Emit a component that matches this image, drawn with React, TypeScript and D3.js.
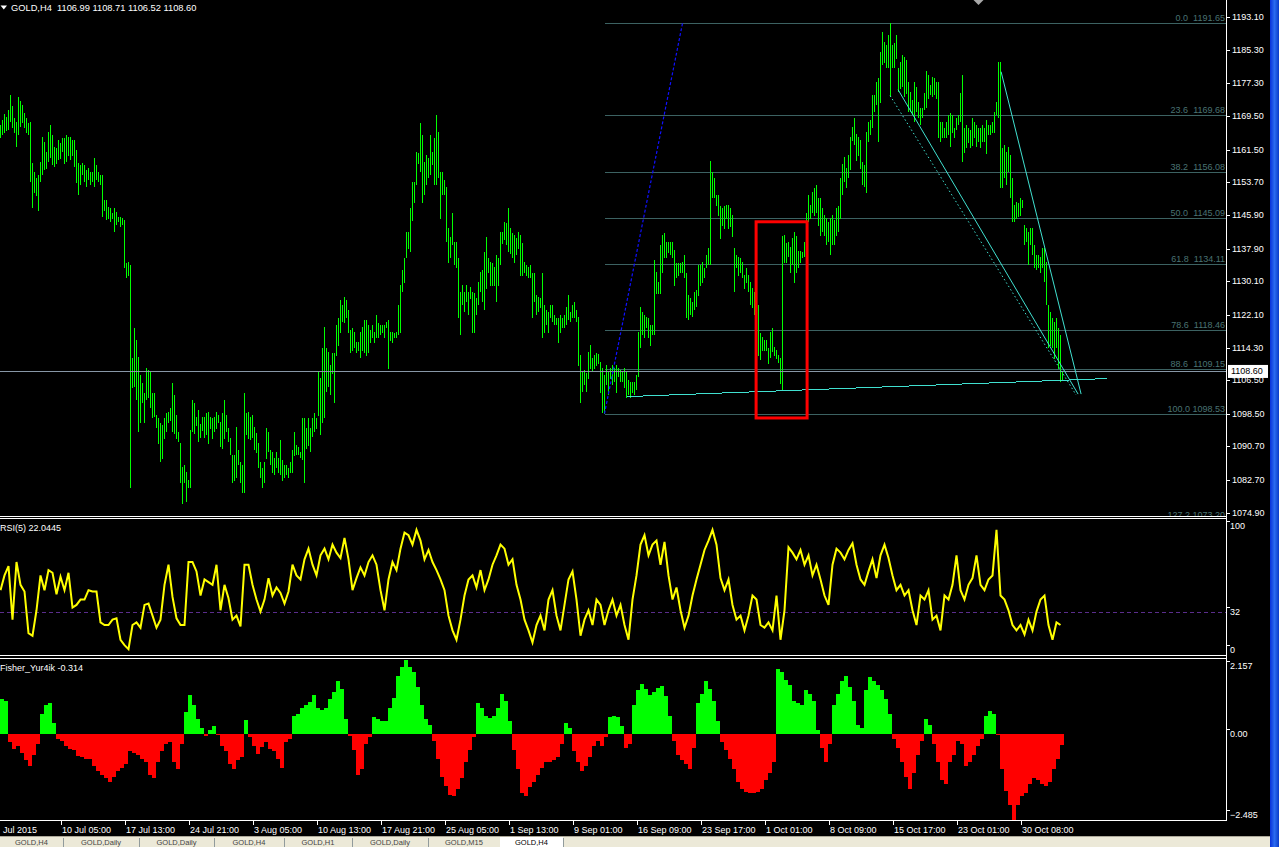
import React from 'react';
import * as d3 from 'd3';

// ---------------- DATA ----------------
// [high, low] of every H4 bar (GOLD), oldest first
const BARS: [number, number][] = [
  // 0-14
  [1167.5,1164.3],[1168.5,1165.0],[1170.0,1165.5],[1169.2,1166.0],[1171.0,1166.4],
  [1174.6,1168.1],[1172.0,1166.8],[1169.1,1165.7],[1168.1,1162.2],[1174.1,1165.0],
  [1173.0,1167.0],[1172.2,1167.9],[1170.3,1166.7],[1169.0,1165.5],[1167.9,1165.0],
  // 15-24
  [1168.0,1153.8],[1158.3,1147.6],[1156.2,1151.4],[1154.8,1150.5],[1155.5,1147.1],
  [1158.6,1154.0],[1164.5,1155.5],[1163.4,1156.7],[1161.0,1157.0],[1165.7,1158.6],
  // 25-37
  [1167.4,1159.7],[1165.0,1157.9],[1162.2,1157.4],[1161.9,1158.3],[1163.8,1159.1],
  [1163.0,1159.5],[1164.3,1161.0],[1164.3,1158.3],[1165.0,1158.6],[1164.5,1160.2],
  [1164.5,1159.1],[1163.8,1160.0],[1163.8,1157.4],
  // 38-49
  [1161.5,1153.6],[1158.3,1150.7],[1157.9,1153.1],[1158.3,1155.5],[1157.9,1153.8],
  [1156.7,1152.6],[1157.2,1154.3],[1156.2,1153.1],[1156.2,1153.8],[1159.5,1152.6],
  [1157.9,1154.3],[1156.2,1153.8],
  // 50-62
  [1155.5,1153.1],[1155.5,1145.5],[1149.5,1147.1],[1149.5,1144.8],[1147.8,1145.2],
  [1147.6,1144.3],[1146.4,1145.2],[1147.6,1141.9],[1146.6,1143.6],[1145.5,1144.3],
  [1145.5,1143.1],[1145.2,1143.6],[1144.7,1133.5],
  // 63-79
  [1134.5,1130.9],[1134.7,1131.6],[1134.0,1081.0],[1111.8,1104.7],[1119.0,1104.9],
  [1116.1,1101.8],[1112.0,1094.2],[1107.8,1096.5],[1105.8,1101.1],[1103.5,1096.5],
  [1109.4,1101.8],[1109.0,1102.5],[1108.5,1100.1],[1103.5,1097.5],[1103.5,1097.8],
  [1098.2,1095.3],[1097.5,1091.5],
  // 80-99
  [1096.3,1087.0],[1095.8,1087.9],[1097.5,1092.7],[1098.7,1094.2],[1098.9,1096.5],
  [1099.9,1097.0],[1105.8,1094.2],[1103.0,1093.9],[1098.2,1092.7],[1094.2,1091.8],
  [1091.5,1082.2],[1085.8,1077.2],[1086.3,1082.0],[1084.6,1077.5],[1082.7,1080.8],
  [1094.6,1080.8],[1101.8,1094.2],[1101.1,1093.9],[1097.7,1095.8],[1099.4,1091.8],
  // 100-122
  [1096.1,1092.9],[1097.7,1094.6],[1097.7,1092.9],[1098.7,1093.5],[1098.9,1091.5],
  [1097.7,1095.1],[1097.5,1092.7],[1097.7,1094.2],[1098.9,1095.1],[1098.2,1096.5],
  [1096.5,1090.6],[1098.7,1090.3],[1101.8,1092.7],[1098.2,1094.2],[1095.1,1091.8],
  [1092.7,1088.7],[1088.7,1082.2],[1088.7,1082.7],[1095.3,1083.2],[1089.9,1086.5],
  [1087.0,1082.2],[1086.3,1079.8],[1103.5,1079.8],
  // 123-152
  [1098.7,1093.5],[1098.9,1092.7],[1097.7,1092.3],[1098.2,1092.9],[1095.3,1089.9],
  [1094.0,1089.2],[1091.5,1085.8],[1087.0,1083.2],[1085.6,1080.8],[1087.0,1082.2],
  [1095.1,1087.9],[1094.2,1089.4],[1089.9,1086.3],[1089.4,1084.4],[1087.9,1083.9],
  [1089.4,1085.6],[1087.9,1084.6],[1092.3,1083.9],[1087.5,1082.7],[1086.3,1083.2],
  [1086.3,1083.9],[1085.6,1083.4],[1087.0,1084.4],[1089.9,1084.4],[1094.2,1088.5],
  [1091.0,1088.7],[1090.6,1088.7],[1089.4,1088.0],[1097.5,1087.5],[1097.5,1082.2],
  // 153-172
  [1095.1,1090.3],[1097.5,1091.0],[1095.1,1089.4],[1097.5,1093.0],[1098.7,1094.2],
  [1097.5,1095.1],[1108.5,1098.2],[1107.0,1093.5],[1114.2,1096.5],[1119.2,1097.5],
  [1114.2,1103.7],[1113.2,1104.9],[1110.1,1103.0],[1113.0,1108.2],[1113.0,1101.3],
  [1119.7,1112.5],[1121.3,1114.9],[1125.7,1117.8],[1124.5,1120.4],[1126.4,1120.2],
  // 173-198
  [1125.7,1121.4],[1123.3,1118.0],[1118.5,1113.2],[1119.0,1113.5],[1118.0,1114.2],
  [1115.6,1113.2],[1115.6,1113.5],[1118.0,1112.0],[1119.2,1113.7],[1120.9,1113.2],
  [1120.9,1112.5],[1119.7,1113.2],[1118.5,1115.6],[1119.7,1116.6],[1118.0,1115.4],
  [1122.1,1116.6],[1120.2,1116.6],[1119.7,1117.3],[1119.7,1117.8],[1119.7,1116.6],
  [1120.4,1119.0],[1120.9,1109.4],[1118.0,1116.1],[1118.0,1115.6],[1117.8,1116.6],
  [1118.0,1116.6],
  // 199-219
  [1124.5,1117.3],[1129.2,1118.0],[1132.8,1127.6],[1135.7,1129.9],[1141.9,1135.7],
  [1141.9,1138.0],[1147.6,1137.1],[1153.8,1144.7],[1153.8,1149.0],[1160.9,1153.1],
  [1160.7,1158.3],[1167.9,1156.2],[1165.0,1149.0],[1158.6,1150.7],[1160.2,1153.1],
  [1159.5,1154.8],[1165.0,1155.5],[1161.0,1157.9],[1164.3,1153.1],[1169.8,1153.1],
  [1165.7,1154.8],
  // 220-249
  [1156.2,1145.2],[1156.2,1150.7],[1154.3,1150.7],[1152.6,1139.5],[1142.8,1134.5],
  [1140.7,1135.7],[1146.4,1138.8],[1139.5,1134.0],[1139.5,1133.3],[1135.7,1121.4],
  [1127.6,1117.3],[1129.2,1124.5],[1127.6,1122.8],[1129.2,1125.2],[1127.6,1122.1],
  [1128.8,1126.1],[1127.6,1118.0],[1127.3,1118.0],[1126.1,1122.1],[1129.9,1124.5],
  [1132.3,1127.6],[1132.8,1125.2],[1137.1,1123.3],[1140.7,1128.5],[1135.7,1132.3],
  [1134.7,1129.2],[1134.5,1129.2],[1133.5,1129.2],[1136.4,1125.2],[1135.7,1129.2],
  // 250-289
  [1141.9,1134.0],[1141.9,1139.2],[1144.3,1140.0],[1144.0,1138.8],[1147.6,1137.1],
  [1142.8,1136.8],[1141.6,1135.7],[1141.1,1134.7],[1140.4,1136.4],[1141.9,1138.0],
  [1141.1,1131.6],[1139.2,1131.6],[1134.7,1132.3],[1134.0,1131.6],[1133.5,1130.9],
  [1134.0,1130.9],[1132.1,1121.4],[1132.1,1125.2],[1126.8,1122.1],[1126.4,1122.8],
  [1126.1,1123.8],[1132.1,1116.6],[1124.5,1118.0],[1123.3,1119.7],[1122.8,1118.0],
  [1124.5,1121.4],[1124.5,1120.4],[1122.1,1119.7],[1121.4,1119.7],[1121.4,1115.6],
  [1122.1,1118.0],[1121.4,1119.0],[1122.1,1119.0],[1124.0,1119.7],[1126.8,1120.9],
  [1122.8,1120.4],[1124.5,1121.4],[1125.2,1121.4],[1123.3,1120.4],[1121.6,1110.1],
  // 290-302
  [1112.5,1101.1],[1108.5,1103.7],[1109.0,1105.4],[1108.2,1103.7],[1113.2,1107.0],
  [1114.9,1109.4],[1111.8,1108.5],[1112.5,1109.4],[1113.0,1110.1],[1112.8,1110.6],
  [1110.8,1103.5],[1109.4,1098.7],[1107.8,1098.53],
  // 303-320
  [1110.1,1105.4],[1108.5,1103.0],[1109.4,1107.0],[1110.1,1105.4],[1109.4,1106.1],
  [1110.1,1103.5],[1109.4,1107.3],[1109.0,1106.1],[1108.5,1106.1],[1109.4,1104.7],
  [1108.5,1102.3],[1106.6,1103.0],[1106.1,1102.5],[1106.1,1103.5],[1106.1,1103.0],
  [1107.8,1104.2],[1118.0,1107.3],[1124.0,1114.2],
  // 321-355
  [1122.8,1117.3],[1122.1,1116.8],[1121.6,1119.0],[1121.4,1116.6],[1119.7,1114.9],
  [1119.7,1117.3],[1135.2,1117.3],[1132.3,1127.3],[1129.9,1127.3],[1138.8,1127.1],
  [1141.1,1132.1],[1141.6,1135.7],[1139.5,1135.7],[1139.5,1136.9],[1139.5,1136.4],
  [1139.5,1135.7],[1137.6,1129.2],[1134.5,1130.9],[1134.5,1131.6],[1134.5,1132.1],
  [1134.7,1132.1],[1136.4,1130.9],[1132.1,1121.4],[1126.8,1120.9],[1126.1,1122.1],
  [1125.2,1121.6],[1127.6,1123.3],[1128.0,1124.0],[1134.0,1126.8],[1134.0,1129.2],
  [1134.7,1129.9],[1133.3,1130.9],[1136.4,1133.3],[1138.0,1134.0],[1158.8,1134.0],
  // 356-378
  [1156.2,1150.0],[1154.8,1150.0],[1150.7,1148.3],[1150.7,1145.9],[1148.0,1140.4],
  [1147.6,1143.5],[1148.0,1142.8],[1148.3,1145.2],[1148.3,1142.8],[1147.6,1143.1],
  [1145.9,1140.7],[1138.0,1127.6],[1136.4,1133.3],[1135.9,1131.6],[1135.7,1132.3],
  [1134.7,1130.9],[1131.6,1128.5],[1133.3,1129.9],[1131.6,1127.6],[1130.0,1124.5],
  [1128.5,1123.8],[1127.6,1122.1],[1124.5,1122.8],
  // 379-402
  [1124.5,1112.5],[1117.8,1111.4],[1116.8,1113.7],[1116.1,1113.5],[1116.1,1113.7],
  [1114.2,1110.6],[1118.0,1112.0],[1118.9,1113.4],[1114.4,1112.5],[1113.7,1111.8],
  [1112.5,1110.8],[1111.8,1105.8],[1140.9,1104.2],[1141.1,1134.5],[1139.2,1134.5],
  [1139.5,1135.9],[1138.3,1132.1],[1140.4,1134.0],[1141.9,1129.9],[1140.9,1132.3],
  [1137.3,1133.5],[1137.3,1134.5],[1137.1,1135.7],[1139.5,1135.9],
  // 403-420
  [1146.4,1138.8],[1150.7,1144.3],[1148.3,1145.2],[1151.4,1146.6],[1152.4,1145.9],
  [1153.1,1146.6],[1150.0,1143.5],[1150.0,1141.1],[1147.6,1141.9],[1145.9,1141.1],
  [1145.2,1138.8],[1144.3,1139.5],[1145.2,1136.4],[1145.9,1138.8],[1144.7,1138.8],
  [1147.6,1141.1],[1148.0,1141.9],[1154.8,1145.2],
  // 421-445
  [1158.1,1150.9],[1159.7,1154.0],[1157.1,1152.4],[1160.2,1154.8],[1164.5,1156.7],
  [1166.9,1163.6],[1169.1,1162.7],[1165.2,1158.8],[1164.5,1160.2],[1163.8,1157.1],
  [1158.6,1153.1],[1157.9,1152.6],[1165.7,1151.4],[1168.1,1163.4],[1168.6,1165.0],
  [1174.6,1166.7],[1174.6,1170.5],[1177.7,1172.2],[1178.7,1163.4],[1184.9,1172.7],
  [1189.6,1181.7],[1187.2,1182.4],[1186.4,1181.0],[1188.8,1181.2],[1191.65,1174.1],
  // 446-481
  [1186.4,1181.0],[1186.9,1181.2],[1188.8,1183.3],[1181.0,1175.3],[1182.4,1176.2],
  [1184.1,1176.5],[1183.6,1174.1],[1182.9,1174.9],[1177.7,1170.5],[1175.3,1170.5],
  [1173.4,1169.8],[1177.7,1168.1],[1176.5,1170.5],[1172.9,1169.1],[1171.5,1167.4],
  [1171.5,1169.1],[1175.0,1171.0],[1180.2,1171.5],[1179.3,1173.8],[1176.9,1174.6],
  [1178.9,1174.1],[1178.6,1174.6],[1177.7,1173.8],[1177.7,1164.3],[1168.1,1163.4],
  [1168.1,1164.5],[1166.7,1164.5],[1168.1,1164.3],[1169.8,1165.0],[1170.3,1162.2],
  [1169.8,1165.7],[1166.7,1164.3],[1169.1,1166.2],[1169.8,1167.4],[1175.0,1168.1],
  [1179.3,1158.6],
  // 482-500
  [1166.7,1160.9],[1167.4,1161.9],[1166.7,1163.1],[1166.2,1161.9],[1169.1,1162.6],
  [1168.1,1164.3],[1167.4,1162.2],[1166.7,1163.4],[1166.7,1161.9],[1167.4,1163.4],
  [1166.7,1163.4],[1168.6,1160.7],[1167.4,1165.0],[1167.4,1165.0],[1168.1,1165.5],
  [1170.5,1165.7],[1172.9,1169.8],[1182.4,1169.1],[1182.4,1152.4],
  // 501-531
  [1161.9,1152.4],[1162.6,1154.8],[1160.9,1153.1],[1162.2,1156.2],[1160.2,1150.2],
  [1154.8,1144.3],[1148.3,1144.3],[1149.0,1145.2],[1148.8,1145.5],[1150.0,1145.9],
  [1149.5,1147.6],[1143.5,1138.8],[1142.8,1139.5],[1141.9,1134.0],[1142.8,1138.8],
  [1142.8,1136.4],[1138.8,1133.3],[1136.4,1132.8],[1136.4,1133.3],[1135.9,1132.3],
  [1138.0,1133.3],[1138.0,1130.0],[1134.7,1124.5],[1124.5,1114.2],[1122.8,1114.9],
  [1121.4,1114.2],[1120.4,1111.8],[1121.4,1114.2],[1119.0,1109.4],[1117.3,1106.1],
  [1108.71,1106.52],
];

// RSI(5), read every 2nd bar
const IND_STEP = 2;
const RSI5 = [
  48,59,66,26,69,52,47,16,14,33, 59,48,63,61,45,58,48,61,35,37,
  41,41,48,47,47,24,22,22,26,27, 11,7,4,22,24,20,37,38,29,20,
  26,52,67,43,27,22,22,69,69,62, 44,56,54,52,67,33,52,42,26,29,
  21,67,67,52,41,32,41,57,44,50, 46,38,47,67,59,56,71,79,67,59,
  74,79,71,82,76,72,87,71,48,57, 65,59,69,74,67,48,33,56,69,63,
  79,91,89,82,93,85,71,78,69,63, 56,48,29,18,11,26,44,56,59,50,
  63,48,56,67,74,82,79,67,71,52, 41,26,18,9,22,29,18,41,48,29,
  18,37,56,62,41,14,26,33,22,41, 37,22,33,41,29,37,22,11,41,59,
  82,89,74,82,85,67,84,59,41,50, 33,20,29,44,56,67,78,85,93,82,
  57,48,56,37,26,29,18,29,44,41, 22,20,24,18,44,11,33,80,76,71,
  78,67,74,59,67,56,44,37,67,79, 76,71,78,83,67,56,52,62,71,57,
  74,82,72,59,48,52,44,48,33,22, 44,41,48,26,29,18,44,41,52,74,
  48,41,52,57,74,52,48,56,59,93, 44,41,33,22,18,22,15,26,18,32,
  41,44,22,11,24,22,
];

// Fisher_Yur4ik, read every 2nd bar
const FISHER = [
  1.00,0.95,-0.25,-0.43,-0.35,-0.56,-0.77,-0.93,-0.61,-0.30,
  0.58,0.84,0.90,0.32,-0.15,-0.20,-0.35,-0.43,-0.46,-0.64,
  -0.67,-0.72,-0.72,-0.93,-1.08,-1.19,-1.29,-1.40,-1.24,-1.08,
  -0.98,-0.88,-0.49,-0.56,-0.61,-0.72,-0.82,-1.19,-1.29,-0.82,
  -0.51,-0.30,-0.25,-0.82,-1.03,-0.30,0.64,1.14,0.84,0.43,
  0.17,-0.07,0.11,0.22,-0.04,-0.35,-0.51,-0.88,-1.01,-0.77,
  -0.67,0.41,-0.09,-0.35,-0.59,-0.39,-0.25,-0.43,-0.51,-0.72,
  -0.98,-0.25,-0.15,0.53,0.58,0.74,0.84,0.93,1.14,0.74,
  0.69,0.74,1.00,1.21,1.52,1.31,0.43,-0.07,-0.46,-1.19,
  -1.03,-0.30,-0.09,0.48,0.43,0.38,0.38,0.74,1.05,1.68,
  1.94,2.157,1.94,1.78,1.36,0.84,0.43,0.27,-0.20,-0.72,
  -1.24,-1.50,-1.78,-1.81,-1.60,-1.29,-0.82,-0.46,-0.09,0.90,
  0.74,0.53,0.45,0.53,0.74,1.16,0.95,0.38,-0.46,-1.03,
  -1.71,-1.81,-1.55,-1.40,-1.19,-0.98,-0.82,-0.82,-0.77,-0.67,
  -0.30,0.32,0.17,-0.51,-0.82,-1.08,-0.93,-0.67,-0.35,-0.20,
  -0.35,-0.09,0.48,0.51,0.48,0.22,-0.41,-0.30,0.84,1.26,
  1.45,1.31,1.14,1.21,1.34,1.39,1.10,0.53,-0.20,-0.61,
  -0.77,-0.88,-1.01,-0.41,0.90,1.16,1.52,1.31,0.95,0.38,
  -0.25,-0.46,-0.72,-1.03,-1.40,-1.60,-1.68,-1.71,-1.71,-1.68,
  -1.60,-1.34,-1.14,-0.82,1.89,1.78,1.57,1.42,0.95,0.90,
  0.84,1.26,1.16,0.95,0.11,-0.41,-0.82,-0.30,0.84,1.16,
  1.52,1.68,1.36,0.95,0.27,0.17,1.26,1.66,1.52,1.42,
  1.26,1.00,0.58,-0.15,-0.41,-0.82,-1.24,-1.60,-1.14,-0.61,
  -0.20,0.43,0.27,-0.30,-0.82,-1.34,-1.45,-0.82,-0.61,-0.20,
  -0.30,-0.93,-0.82,-0.61,-0.35,-0.15,0.53,0.66,0.58,-0.04,
  -1.03,-1.66,-2.07,-2.485,-2.07,-1.81,-1.71,-1.45,-1.29,-1.34,
  -1.45,-1.50,-1.40,-1.03,-0.72,-0.31,
];

const PRICE_TICKS = [1193.10,1185.30,1177.30,1169.50,1161.50,1153.70,1145.90,1137.90,
  1130.10,1122.10,1114.30,1106.50,1098.50,1090.70,1082.70,1074.90];
const PRICE_WINDOW = [1074.0, 1197.2];

const TIME_FIRST_LABEL = 'Jul 2015';
const TIME_LABELS = ['10 Jul 05:00','17 Jul 13:00','24 Jul 21:00','3 Aug 05:00','10 Aug 13:00',
  '17 Aug 21:00','25 Aug 05:00','1 Sep 13:00','9 Sep 01:00','16 Sep 09:00','23 Sep 17:00',
  '1 Oct 01:00','8 Oct 09:00','15 Oct 17:00','23 Oct 01:00','30 Oct 08:00'];
const TIME_FIRST_BAR = 30;
const TIME_EVERY_BARS = 32;

const FIB_LEVELS = ['0.0','23.6','38.2','50.0','61.8','78.6','88.6','100.0','127.2'];
const FIB_PRICES = [1191.65,1169.68,1156.08,1145.09,1134.11,1118.46,1109.15,1098.53,1073.20];
const FIB_ANCHOR_BARS = [302, 341];

// trend lines: [bar, price] -> [bar, price]
const TREND_SOLID: [number, number][][] = [
  [[313.2,1102.6],[553.2,1106.9]],
  [[448.8,1175.8],[538.8,1103.2]],
  [[500.3,1180.1],[540.3,1103.2]],
];
const TREND_DOTTED: [number, number][][] = [
  [[444.8,1174.4],[537.8,1103.0]],
];
const BOX_BARS = [377.8, 403.3];
const BOX_PRICES = [1144.3, 1097.5];

const SYMBOL = 'GOLD,H4';
const LAST_OHLC = [1106.99, 1108.71, 1106.52, 1108.60];
const RSI_TITLE = 'RSI(5) 22.0445';
const RSI_LEVELS = [100, 32, 0];
const FISHER_TITLE = 'Fisher_Yur4ik -0.314';
const TABS = ['GOLD,H4','GOLD,Daily','GOLD,Daily','GOLD,H4','GOLD,H1','GOLD,Daily','GOLD,M15','GOLD,H4'];

// ---------------- LAYOUT ----------------
const W = 1279, H = 847;
const AXIS_X = 1226.5;
const MAIN_B = 516.5;
const RSI_T = 518.5, RSI_B = 655.5;
const FIS_T = 658.5, FIS_B = 820.5;
const FONT = "'Liberation Sans', Arial, sans-serif";
const FIB_COLOR = '#3C6262';
const FIB_TEXT = '#4A7373';
const CYAN = '#40E0D0';
const TAB_EDGES = [0, 63, 139, 214, 284, 352, 428, 500, 563];

export default function App() {
  const x = d3.scaleLinear().domain([0, 1]).range([0.5, 2.5]);
  const yP = d3.scaleLinear().domain(PRICE_WINDOW).range([MAIN_B, 0]);
  const yR = d3.scaleLinear().domain([0, 100]).range([RSI_B - 1, RSI_T + 2]);
  const fExt = d3.extent(FISHER) as [number, number];
  const yF = d3.scaleLinear().domain(fExt).range([FIS_B - 1, FIS_T + 1]);
  const f2 = d3.format('.2f');

  const barPath = BARS.map(([h, l], i) => `M${x(i)},${yP(h)}V${yP(l) + 0.5}`).join('');

  const rsiLine = d3.line<number>()
    .x((_, k) => x(k * IND_STEP))
    .y((v) => yR(v))(RSI5) || '';

  const f0 = yF(0);
  let green = '', red = '';
  FISHER.forEach((v, k) => {
    const x0 = x(k * IND_STEP) - 0.5;
    const w = 2 * IND_STEP;
    const yy = yF(v);
    if (v >= 0) green += `M${x0},${f0}H${x0 + w}V${yy}H${x0}Z`;
    else red += `M${x0},${f0}H${x0 + w}V${yy}H${x0}Z`;
  });

  const clampLabel = (y: number, t: number, b: number) => Math.max(t + 7, Math.min(b - 6, y));
  const lastClose = LAST_OHLC[3];

  const txt = { fontFamily: FONT, fontSize: 9 } as const;

  return (
    <svg width={W} height={H} viewBox={`0 0 ${W} ${H}`}
      style={{ position: 'absolute', left: 0, top: 0, display: 'block', background: '#000' }}>
      <defs>
        <clipPath id="cMain"><rect x={0} y={0} width={AXIS_X} height={MAIN_B} /></clipPath>
        <clipPath id="cRsi"><rect x={0} y={RSI_T + 0.5} width={AXIS_X} height={RSI_B - RSI_T - 1} /></clipPath>
        <clipPath id="cFis"><rect x={0} y={FIS_T + 0.5} width={AXIS_X} height={FIS_B - FIS_T - 1} /></clipPath>
        <linearGradient id="blueEdge" x1="0" x2="1" y1="0" y2="0">
          <stop offset="0" stopColor="#0831D9" />
          <stop offset="0.5" stopColor="#2A6BF0" />
          <stop offset="1" stopColor="#0A3CC8" />
        </linearGradient>
      </defs>
      <rect x={0} y={0} width={W} height={H} fill="#000" />

      {/* ---------- main panel ---------- */}
      <g clipPath="url(#cMain)">
        {FIB_PRICES.map((p, i) => (
          <line key={'fl' + i} x1={x(FIB_ANCHOR_BARS[0])} x2={AXIS_X} y1={Math.round(yP(p)) + 0.5} y2={Math.round(yP(p)) + 0.5}
            stroke={FIB_COLOR} strokeWidth={1} shapeRendering="crispEdges" />
        ))}
        <path d={barPath} stroke="#00FF00" strokeWidth={1} fill="none" shapeRendering="crispEdges" />
        {FIB_PRICES.map((p, i) => (
          <text key={'ft' + i} x={1225} y={yP(p) - 2} textAnchor="end" fill={FIB_TEXT} style={{ ...txt, whiteSpace: 'pre' }} xmlSpace="preserve">
            {`${FIB_LEVELS[i]}${FIB_LEVELS[i].length >= 5 ? ' ' : '  '}${f2(p)}`}
          </text>
        ))}
        <line x1={0} x2={AXIS_X} y1={Math.round(yP(lastClose)) + 0.5} y2={Math.round(yP(lastClose)) + 0.5}
          stroke="#8797A6" strokeWidth={1} shapeRendering="crispEdges" />
        <line x1={x(FIB_ANCHOR_BARS[0])} y1={yP(FIB_PRICES[7])} x2={x(FIB_ANCHOR_BARS[1])} y2={yP(FIB_PRICES[0])}
          stroke="#1010FF" strokeWidth={1.2} strokeDasharray="3,2" />
        {TREND_SOLID.map((seg, i) => (
          <line key={'ts' + i} x1={x(seg[0][0])} y1={yP(seg[0][1])} x2={x(seg[1][0])} y2={yP(seg[1][1])}
            stroke={CYAN} strokeWidth={1} shapeRendering={i === 0 ? 'crispEdges' : 'auto'} />
        ))}
        {TREND_DOTTED.map((seg, i) => (
          <line key={'td' + i} x1={x(seg[0][0])} y1={yP(seg[0][1])} x2={x(seg[1][0])} y2={yP(seg[1][1])}
            stroke={CYAN} strokeWidth={1} strokeDasharray="1.5,2.5" />
        ))}
        <rect x={x(BOX_BARS[0])} y={yP(BOX_PRICES[0])} width={x(BOX_BARS[1]) - x(BOX_BARS[0])}
          height={yP(BOX_PRICES[1]) - yP(BOX_PRICES[0])} fill="none" stroke="#FF0000" strokeWidth={3} />
      </g>
      {/* header */}
      <polygon points="0.5,5.5 7,5.5 3.75,9.5" fill="#fff" />
      <text x={11} y={7.5} dominantBaseline="central" fill="#fff" style={{ ...txt, fontSize: 9.3, whiteSpace: 'pre' }} xmlSpace="preserve">
        {`${SYMBOL}  ${LAST_OHLC.map(f2).join(' ')}`}
      </text>
      <polygon points="973.5,0 983.5,0 978.5,5" fill="#A8A8A8" />

      {/* ---------- RSI panel ---------- */}
      <g clipPath="url(#cRsi)">
        <line x1={0} x2={AXIS_X} y1={Math.round(yR(RSI_LEVELS[1])) + 0.5} y2={Math.round(yR(RSI_LEVELS[1])) + 0.5}
          stroke="#5A2D8C" strokeWidth={1} strokeDasharray="4,3" shapeRendering="crispEdges" />
        <path d={rsiLine} fill="none" stroke="#FFFF00" strokeWidth={2} strokeLinejoin="miter" />
      </g>
      <text x={0} y={RSI_T + 9.5} dominantBaseline="central" fill="#fff" style={txt}>{RSI_TITLE}</text>

      {/* ---------- Fisher panel ---------- */}
      <g clipPath="url(#cFis)" shapeRendering="crispEdges">
        <path d={green} fill="#00FF00" />
        <path d={red} fill="#FF0000" />
      </g>
      <text x={0} y={FIS_T + 9.5} dominantBaseline="central" fill="#fff" style={txt}>{FISHER_TITLE}</text>

      {/* ---------- frames ---------- */}
      <g stroke="#fff" strokeWidth={1} shapeRendering="crispEdges">
        <line x1={AXIS_X} x2={AXIS_X} y1={0} y2={FIS_B} />
        {[MAIN_B, RSI_T, RSI_B, FIS_T, FIS_B].map((yy) => (
          <line key={'fr' + yy} x1={0} x2={AXIS_X} y1={yy} y2={yy} />
        ))}
      </g>

      {/* ---------- price axis ---------- */}
      {PRICE_TICKS.map((p) => (
        <g key={'pt' + p}>
          <line x1={AXIS_X} x2={AXIS_X + 3} y1={Math.round(yP(p)) + 0.5} y2={Math.round(yP(p)) + 0.5} stroke="#fff" shapeRendering="crispEdges" />
          <text x={1232} y={yP(p)} dominantBaseline="central" fill="#fff" style={txt}>{f2(p)}</text>
        </g>
      ))}
      <rect x={1228} y={yP(lastClose) - 6.5} width={40} height={13} fill="#fff" />
      <text x={1231} y={yP(lastClose)} dominantBaseline="central" fill="#000" style={txt}>{f2(lastClose)}</text>

      {/* RSI axis */}
      {RSI_LEVELS.map((v) => {
        const yy = clampLabel(yR(v), RSI_T, RSI_B);
        return (
          <g key={'rl' + v}>
            <line x1={AXIS_X} x2={AXIS_X + 3} y1={Math.round(yy - 5) + 0.5} y2={Math.round(yy - 5) + 0.5} stroke="#fff" shapeRendering="crispEdges" />
            <text x={1230} y={yy} dominantBaseline="central" fill="#fff" style={txt}>{v}</text>
          </g>
        );
      })}
      {/* Fisher axis */}
      {[fExt[1], 0, fExt[0]].map((v, i) => {
        const yy = clampLabel(yF(v), FIS_T, FIS_B);
        const label = i === 1 ? '0.00' : d3.format('.3f')(v);
        return (
          <g key={'fa' + i}>
            <line x1={AXIS_X} x2={AXIS_X + 3} y1={Math.round(yy - 5) + 0.5} y2={Math.round(yy - 5) + 0.5} stroke="#fff" shapeRendering="crispEdges" />
            <text x={1230} y={yy} dominantBaseline="central" fill="#fff" style={txt}>{label}</text>
          </g>
        );
      })}

      {/* ---------- time axis ---------- */}
      <text x={3} y={830} dominantBaseline="central" fill="#fff" style={txt}>{TIME_FIRST_LABEL}</text>
      {TIME_LABELS.map((lab, j) => {
        const bx = x(TIME_FIRST_BAR + j * TIME_EVERY_BARS);
        return (
          <g key={'tl' + j}>
            <line x1={Math.round(bx) + 0.5} x2={Math.round(bx) + 0.5} y1={FIS_B} y2={FIS_B + 4.5} stroke="#fff" shapeRendering="crispEdges" />
            <text x={bx + 1.5} y={830} dominantBaseline="central" fill="#fff" style={txt}>{lab}</text>
          </g>
        );
      })}

      {/* ---------- tabs bar ---------- */}
      <rect x={0} y={836} width={W} height={11} fill="#ECE9D8" />
      <line x1={0} x2={W} y1={836.5} y2={836.5} stroke="#ACA899" shapeRendering="crispEdges" />
      {TABS.map((t, i) => {
        const a = TAB_EDGES[i], b = TAB_EDGES[i + 1];
        const active = i === TABS.length - 1;
        return (
          <g key={'tab' + i}>
            {active && <rect x={a} y={837} width={b - a} height={10} fill="#FFFFFF" />}
            <line x1={b + 0.5} x2={b + 0.5} y1={838} y2={847} stroke="#919B9C" shapeRendering="crispEdges" />
            <text x={(a + b) / 2} y={842.5} dominantBaseline="central" textAnchor="middle" fill={active ? '#000' : '#444'}
              style={{ fontFamily: FONT, fontSize: 7.5 }}>{t}</text>
          </g>
        );
      })}

      {/* window edge */}
      <rect x={1270} y={0} width={9} height={H} fill="url(#blueEdge)" />
    </svg>
  );
}
